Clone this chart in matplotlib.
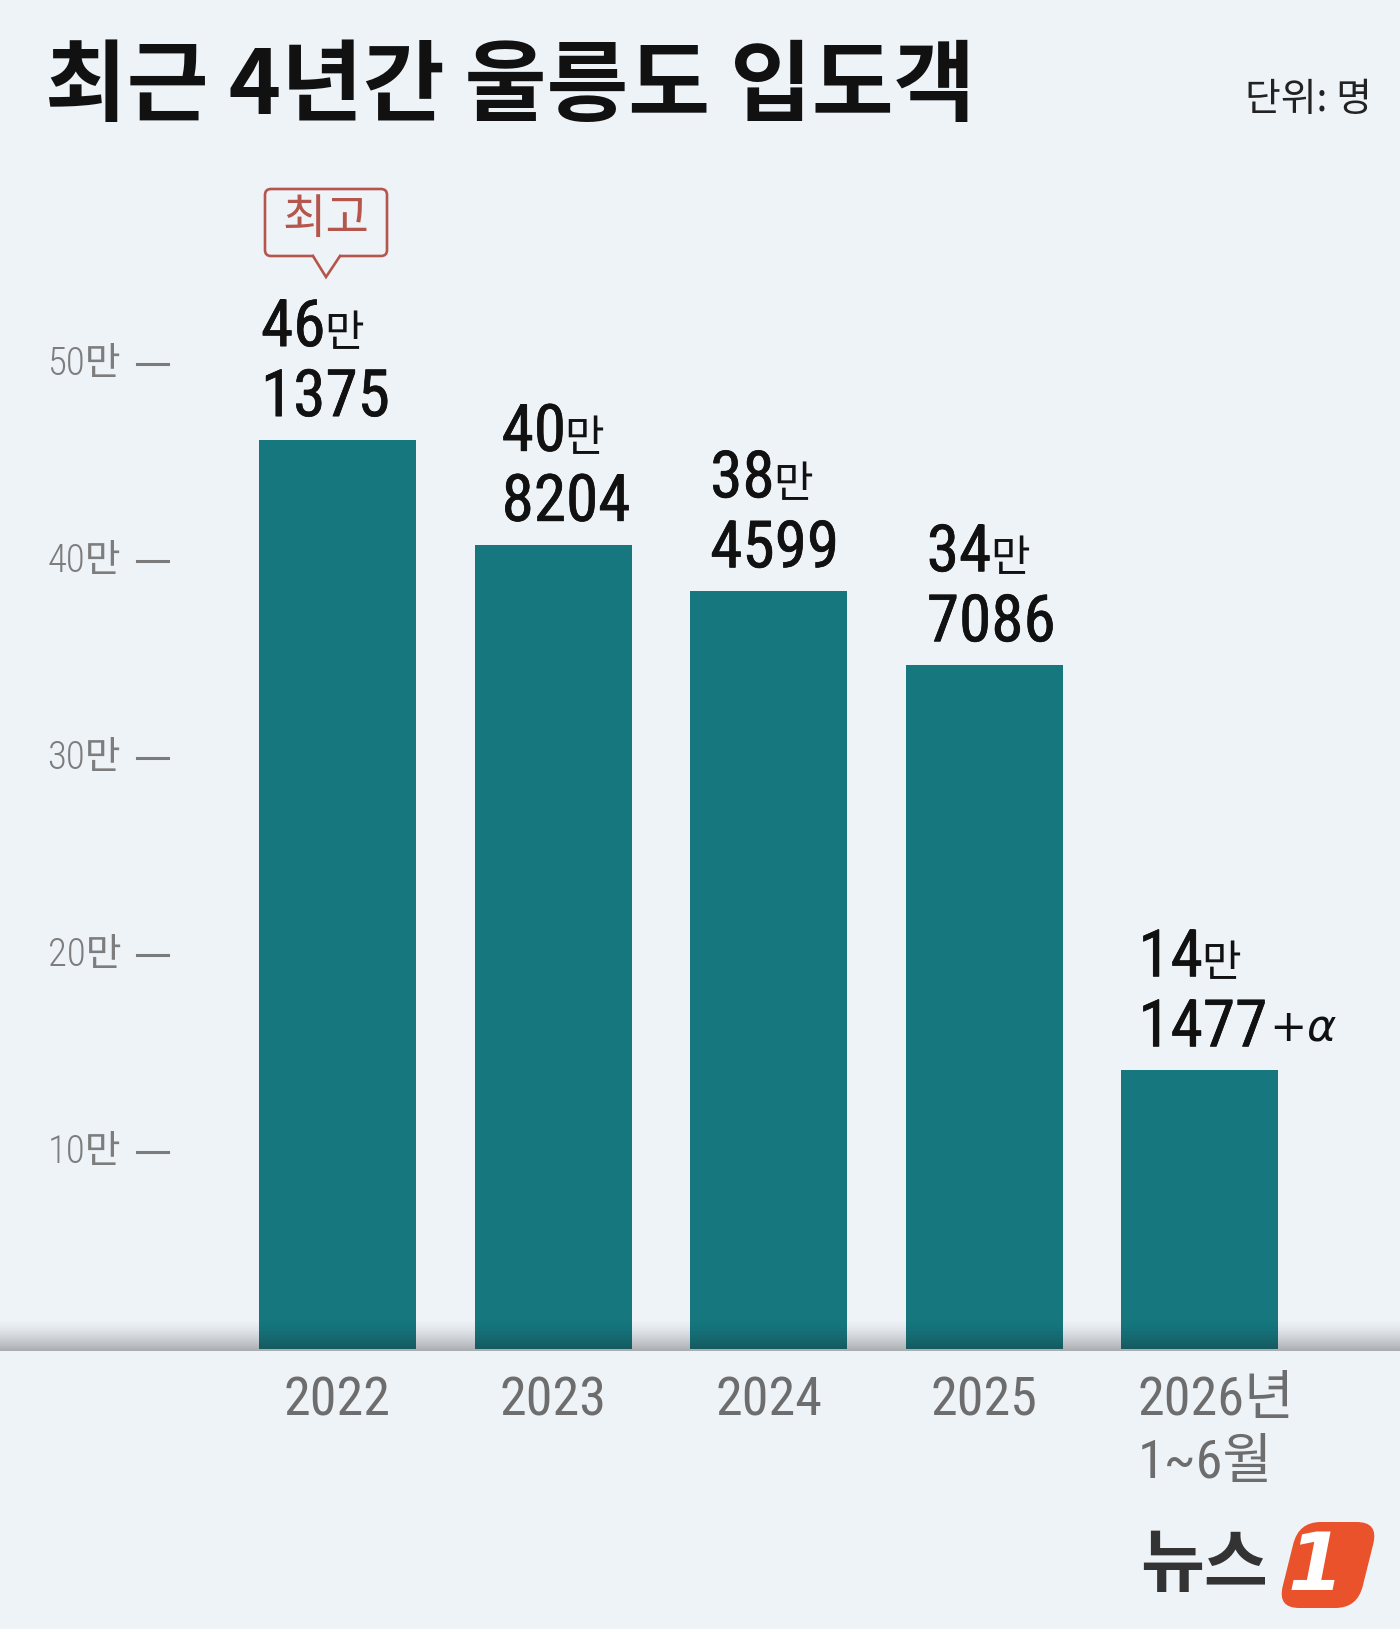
import matplotlib
matplotlib.use("Agg")
import matplotlib.pyplot as plt
import matplotlib.patheffects as pe
import numpy as np
from matplotlib import font_manager
from matplotlib.patches import FancyBboxPatch, Polygon
from matplotlib.transforms import Affine2D, ScaledTranslation

# data
years = ["2022", "2023", "2024", "2025", "2026년\n1~6월"]
visitors = [461375, 408204, 384599, 347086, 141477]
ytick_vals = [100000, 200000, 300000, 400000, 500000]
ytick_labels = ["10만", "20만", "30만", "40만", "50만"]

# style
BG = "#eef3f8"
TEAL = "#16777f"
RED = "#b5564d"
INK = "#111111"
W, H = 1400, 1629
ZERO_PX = 1349
PX_PER_100K = 197
BAR0_PX = 337.5
STEP_PX = 215.6
BAR_W = 157 / STEP_PX
LABEL_DX = [2, 27, 20, 21, 17]  # px from bar left edge
GAP = 24                         # px from bar top to 2nd label line
LINE = 70                        # px between label lines

# pick a narrow font for the digits if one is installed
fonts = font_manager.fontManager.ttflist
names = {f.name for f in fonts}
COND, STRETCH = "Liberation Sans", "normal"
for cand in ["Roboto Condensed", "Liberation Sans Narrow", "Open Sans Condensed"]:
    if cand in names:
        COND, STRETCH = cand, "normal"
        break
else:
    for fam in ["Roboto", "Noto Sans", "DejaVu Sans", "Open Sans"]:
        if any(f.name == fam and f.stretch in ("condensed", "semi-condensed")
               for f in fonts):
            COND, STRETCH = fam, "condensed"
            break
KR = "Noto Sans CJK KR"
plt.rcParams["font.family"] = [COND, KR, "DejaVu Sans"]
plt.rcParams["font.stretch"] = STRETCH

fig = plt.figure(figsize=(W / 100, H / 100), dpi=100, facecolor=BG)

# main bar axes, scaled so that 10만 = 197 px
ax = fig.add_axes([0, (H - ZERO_PX) / H, 1, 6 * PX_PER_100K / H])
ax.set_facecolor("none")
ax.set_ylim(0, 600000)
ax.set_xlim(-BAR0_PX / STEP_PX, (W - BAR0_PX) / STEP_PX)
for s in ax.spines.values():
    s.set_visible(False)
ax.set_yticks([])

x = np.arange(len(visitors))
ax.bar(x, visitors, width=BAR_W, color=TEAL, zorder=2)

ax.set_xticks(x, labels=years)
ax.tick_params(axis="x", length=0, pad=19, labelsize=39, labelcolor="#6d6d6d")
for lab in ax.get_xticklabels():
    lab.set_multialignment("left")
    lab.set_linespacing(1.3)
# the two-line label sits a little right of its bar centre
last = ax.get_xticklabels()[-1]
last.set_transform(last.get_transform()
                   + ScaledTranslation(0.16, 0, fig.dpi_scale_trans))

ytr = ax.get_yaxis_transform()
for v, lab in zip(ytick_vals, ytick_labels):
    ax.text(121 / W, v, lab, transform=ytr, ha="right", va="center",
            fontsize=28, weight="light", color="#7d7d7d")
    ax.plot([137 / W, 168 / W], [v, v], transform=ytr, color="#7b7b7b",
            lw=2.2, clip_on=False)

# value labels: "46만" / "1375"
thick = [pe.withStroke(linewidth=0.5, foreground=INK)]
for i, v in enumerate(visitors):
    xl = i - BAR_W / 2
    dx = LABEL_DX[i] * 0.72
    t2 = ax.annotate(f"{v % 10000:04d}", xy=(xl, v), xytext=(dx, GAP * 0.72),
                     textcoords="offset points", ha="left", va="baseline",
                     fontsize=47, color=INK, path_effects=thick,
                     annotation_clip=False)
    t1 = ax.annotate(f"{v // 10000}", xy=(xl, v), xytext=(dx, (GAP + LINE) * 0.72),
                     textcoords="offset points", ha="left", va="baseline",
                     fontsize=47, color=INK, path_effects=thick,
                     annotation_clip=False)
    ax.annotate("만", xy=(1, v), xycoords=(t1, "data"),
                xytext=(-1, (GAP + LINE) * 0.72), textcoords="offset points",
                ha="left", va="baseline", fontsize=31, color=INK,
                family=[KR], weight="medium", annotation_clip=False)
    if i == len(visitors) - 1:
        ax.annotate(r"$+\alpha$", xy=(1, v), xycoords=(t2, "data"),
                    xytext=(1, (GAP + 6) * 0.72), textcoords="offset points",
                    ha="left", va="baseline", fontsize=32, color=INK,
                    annotation_clip=False)

# overlay axes in pixel coordinates (y down)
ov = fig.add_axes([0, 0, 1, 1], zorder=5)
ov.axis("off")

# shaded floor band
n = 64
t = np.linspace(0, 1, n)
band = np.zeros((n, 1, 4))
band[:, 0, :3] = 0.08
band[:, 0, 3] = 0.32 * t ** 1.5
ov.imshow(band, extent=(0, W, ZERO_PX + 2, ZERO_PX - 31), aspect="auto",
          origin="upper", interpolation="bilinear", zorder=1)
ov.set_xlim(0, W)
ov.set_ylim(H, 0)

# title and unit
ov.text(45, 88, "최근 4년간 울릉도 입도객", fontsize=64, weight="bold",
        family=[KR], ha="left", va="center", color=INK)
ov.text(1372, 100, "단위: 명", fontsize=28, family=[KR], weight="light",
        ha="right", va="center", color="#222222")

# "최고" callout
ov.add_patch(FancyBboxPatch((265, 189), 122, 67,
                            boxstyle="round,pad=0,rounding_size=6",
                            fc=BG, ec=RED, lw=1.9, zorder=3))
ov.add_patch(Polygon([(313, 254), (326, 276), (340, 254)], closed=True,
                     fc=BG, ec="none", zorder=4))
ov.plot([313, 326, 340], [256, 277, 256], color=RED, lw=1.9, zorder=4,
        solid_joinstyle="miter")
ov.text(326, 220, "최고", fontsize=34, family=[KR], weight="light",
        color=RED, ha="center", va="center", zorder=5)

# logo
ov.text(1140, 1566, "뉴스", fontsize=50, family=[KR], weight="bold",
        color="#333333", ha="left", va="center")
skew = Affine2D().skew_deg(-14, 0).translate(1328, 1565) + ov.transData
ov.add_patch(FancyBboxPatch((-40, -43), 80, 86,
                            boxstyle="round,pad=0,rounding_size=22",
                            fc="#e9522b", ec="none", transform=skew))
ov.text(1316, 1568, "1", fontsize=58, family="DejaVu Sans", weight="bold",
        style="italic", stretch="normal", color="white", ha="center",
        va="center")

fig.savefig("out.png", dpi=100, facecolor=BG)
